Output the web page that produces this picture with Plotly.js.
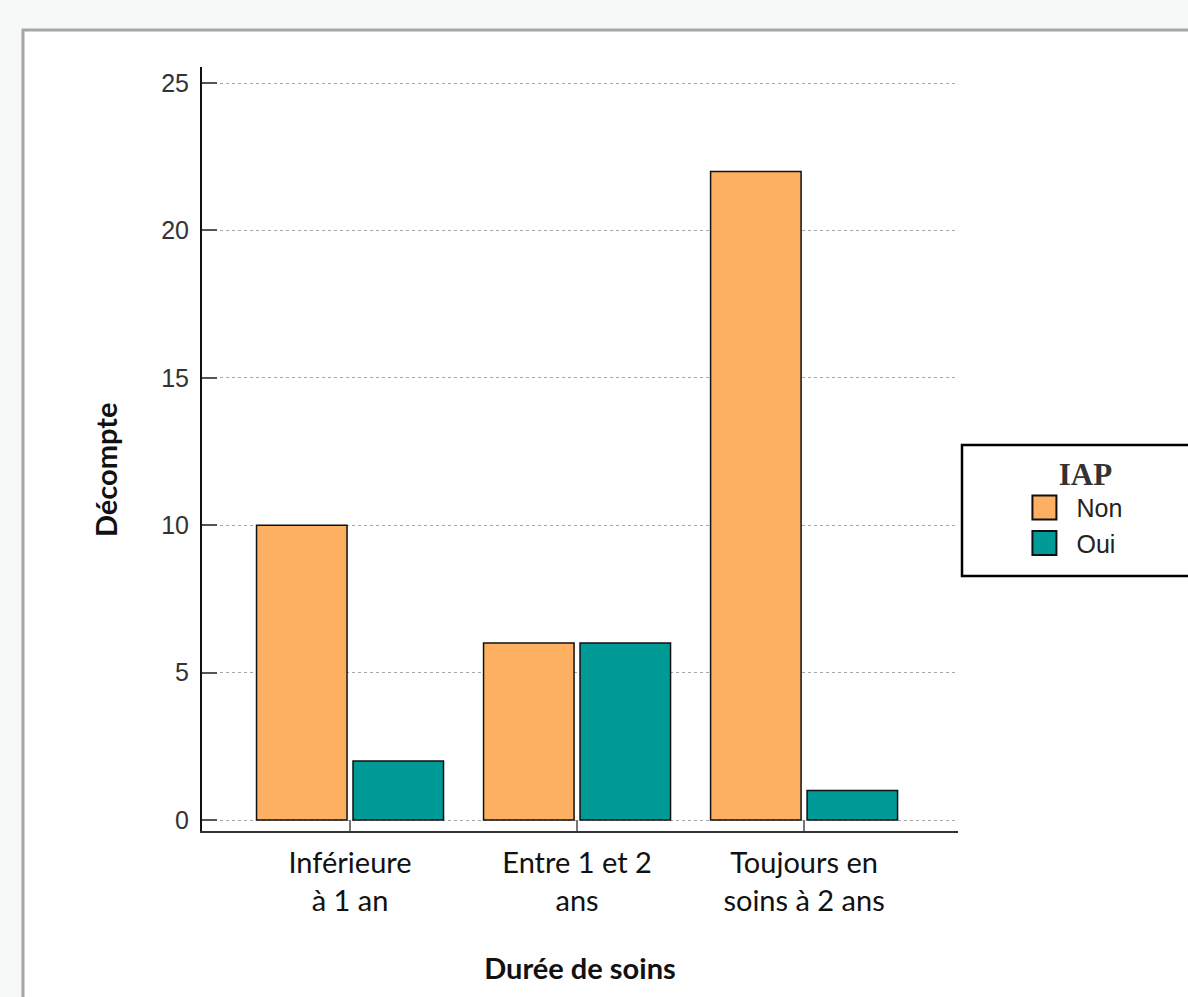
<!DOCTYPE html>
<html>
<head>
<meta charset="utf-8">
<script src="https://cdn.plot.ly/plotly-3.0.1.min.js"></script>
<style>
html,body{margin:0;padding:0;background:#f7f8f8;}
#chart{width:1188px;height:997px;}
</style>
</head>
<body>
<div id="chart"></div>
<script>
var categories = ["Inférieure<br>à 1 an", "Entre 1 et 2<br>ans", "Toujours en<br>soins à 2 ans"];
var seriesNames = ["Non", "Oui"];
var valuesNon = [10, 6, 22];
var valuesOui = [2, 6, 1];
var yTickValues = [0, 5, 10, 15, 20, 25];
var yTickLabels = ["0", "5", "10", "15", "20", "25"];
var legendTitle = "IAP";
var xTitle = "Durée de soins";
var yTitle = "Décompte";

var traces = [
  {type: "bar", name: seriesNames[0], x: categories, y: valuesNon,
   marker: {color: "#fdaf62", line: {color: "#111111", width: 1.5}}, hoverinfo: "y"},
  {type: "bar", name: seriesNames[1], x: categories, y: valuesOui,
   marker: {color: "#009a97", line: {color: "#111111", width: 1.5}}, hoverinfo: "y"}
];

var layout = {
  width: 1188, height: 997,
  margin: {l: 202, r: 230, t: 67, b: 166},
  paper_bgcolor: "#f7f8f8",
  plot_bgcolor: "rgba(0,0,0,0)",
  barmode: "group",
  bargap: 0.15,
  bargroupgap: 0.062,
  showlegend: true,
  xaxis: {
    type: "category",
    range: [-0.652, 2.678],
    showline: true, linecolor: "#333333", linewidth: 2,
    ticks: "inside", ticklen: 11, tickwidth: 2, tickcolor: "#777777",
    showgrid: false, zeroline: false,
    ticklabelstandoff: 5,
    tickfont: {family: "Lato, 'Open Sans', sans-serif", size: 29, color: "#111111"},
    title: {text: xTitle, font: {family: "Lato, 'Open Sans', sans-serif", size: 29, color: "#111111", weight: "bold"}, standoff: 43},
    fixedrange: true
  },
  yaxis: {
    range: [-0.373, 25.543],
    tickvals: yTickValues, ticktext: yTickLabels,
    showline: true, linecolor: "#111111", linewidth: 2,
    ticks: "inside", ticklen: 15, tickwidth: 2, tickcolor: "#555555",
    showgrid: true, gridcolor: "#a8a8a8", gridwidth: 1, griddash: "dot",
    zeroline: false,
    ticklabelstandoff: 6,
    tickfont: {family: "'Liberation Sans', Arial, sans-serif", size: 25, color: "#333333"},
    fixedrange: true
  },
  annotations: [
    {text: "<b>" + yTitle + "</b>", xref: "paper", yref: "paper",
     x: -0.1283, y: 0.4725, xanchor: "center", yanchor: "middle",
     textangle: -90, showarrow: false,
     font: {family: "Lato, 'Open Sans', sans-serif", size: 29, color: "#111111"}}
  ],
  legend: {
    x: 1.072, xanchor: "left", y: 0.506, yanchor: "top",
    bgcolor: "rgba(0,0,0,0)", borderwidth: 0,
    itemwidth: 54,
    title: {text: "&nbsp;&nbsp;&nbsp;&nbsp;<b>" + legendTitle + "</b>", side: "top center",
            font: {family: "'Liberation Serif', 'Times New Roman', serif", size: 31, color: "#333333"}},
    font: {family: "'Liberation Sans', Arial, sans-serif", size: 25, color: "#222222"},
    traceorder: "normal"
  },
  shapes: [
    {type: "rect", xref: "paper", yref: "paper", layer: "below",
     x0: -0.2368, x1: 1.6, y0: -0.5, y1: 1.0484,
     fillcolor: "#ffffff", line: {color: "#a6a6a6", width: 3}},
    {type: "rect", xref: "paper", yref: "paper", layer: "above",
     x0: 1.0053, x1: 1.35, y0: 0.3338, y1: 0.5052,
     fillcolor: "rgba(0,0,0,0)", line: {color: "#000000", width: 2.5}}
  ]
};

Plotly.newPlot("chart", traces, layout, {displayModeBar: false, staticPlot: true}).then(function (gd) {
  var pts = gd.querySelectorAll(".legend .legendpoints path");
  pts.forEach(function (p) {
    var t = p.getAttribute("transform") || "";
    p.setAttribute("transform", t + " scale(2)");
    p.style.vectorEffect = "non-scaling-stroke";
    p.style.strokeWidth = "2px";
  });
});
</script>
</body>
</html>
